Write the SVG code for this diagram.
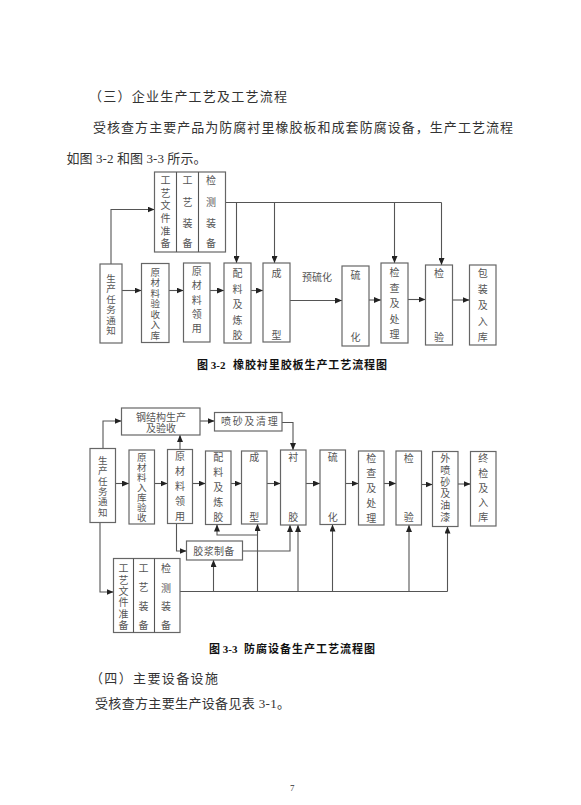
<svg xmlns="http://www.w3.org/2000/svg" width="581" height="805" viewBox="0 0 581 805">
<style>
.body{font-family:"Liberation Serif","Noto Sans CJK SC",serif;font-size:13px;fill:#333}
.cap{font-family:"Liberation Serif","Noto Sans CJK SC",serif;font-size:11px;font-weight:bold;fill:#111}
.bx{fill:#fff;stroke:#666;stroke-width:1.2}
.lbl{font-family:"Liberation Serif","Noto Sans CJK SC",serif;font-size:10px;fill:#555;text-anchor:middle}
.sm{font-size:9.5px}
.ln{fill:none;stroke:#555;stroke-width:1.1}
.ar{fill:none;stroke:#555;stroke-width:1.1;marker-end:url(#ah)}
</style>
<defs>
<marker id="ah" markerWidth="7" markerHeight="6" refX="7" refY="3" orient="auto" markerUnits="userSpaceOnUse"><path d="M0,0 L7,3 L0,6 z" fill="#222"/></marker>
</defs>
<rect width="581" height="805" fill="#fff"/>

<!-- body text -->
<text class="body" x="89" y="101" textLength="198" lengthAdjust="spacing">（三）企业生产工艺及工艺流程</text>
<text class="body" x="93" y="131.5" textLength="420" lengthAdjust="spacing">受核查方主要产品为防腐衬里橡胶板和成套防腐设备，生产工艺流程</text>
<text class="body" x="66.5" y="162.5" textLength="140" lengthAdjust="spacing">如图 3-2 和图 3-3 所示。</text>
<text class="cap" x="197" y="369">图 3-2<tspan x="233" textLength="154" lengthAdjust="spacing">橡胶衬里胶板生产工艺流程图</tspan></text>
<text class="cap" x="209" y="653">图 3-3<tspan x="244" textLength="131" lengthAdjust="spacing">防腐设备生产工艺流程图</tspan></text>
<text class="body" x="90" y="683" textLength="128" lengthAdjust="spacing">（四）主要设备设施</text>
<text class="body" x="95" y="708" textLength="195" lengthAdjust="spacing">受核查方主要生产设备见表 3-1。</text>
<text x="292.3" y="791" font-family="Liberation Serif" font-size="9" fill="#333" text-anchor="middle">7</text>

<!-- ===== Figure 3-2 ===== -->
<g id="f1-connectors">
<path class="ar" d="M111,264 V209.5 H154.5"/>
<path class="ln" d="M225,202.5 H441.5"/>
<path class="ar" d="M236.5,202.5 V263"/>
<path class="ar" d="M274.5,202.5 V263"/>
<path class="ar" d="M394.5,202.5 V263"/>
<path class="ar" d="M441.5,202.5 V265"/>
<path class="ar" d="M122,290.5 H141.5"/>
<path class="ar" d="M169,290.5 H183.5"/>
<path class="ar" d="M210,290.5 H224"/>
<path class="ar" d="M251,290.5 H263"/>
<path class="ar" d="M290,300.5 H342"/>
<path class="ar" d="M369,300 H381"/>
<path class="ar" d="M408,299.5 H425.5"/>
<path class="ar" d="M452.5,300 H469.5"/>
<text class="lbl" x="317" y="280.5">预硫化</text>
</g>

<g id="f1-doc">
<rect class="bx" x="154.5" y="172" width="71" height="80"/>
<path class="ln" d="M176.5,172 V252 M198.5,172 V252"/>
<text class="lbl"><tspan x="165.5" y="184">工</tspan><tspan x="165.5" y="196.7">艺</tspan><tspan x="165.5" y="209.4">文</tspan><tspan x="165.5" y="222">件</tspan><tspan x="165.5" y="234.7">准</tspan><tspan x="165.5" y="247.3">备</tspan></text>
<text class="lbl"><tspan x="187.5" y="184">工</tspan><tspan x="187.5" y="205.7">艺</tspan><tspan x="187.5" y="227.3">装</tspan><tspan x="187.5" y="247.3">备</tspan></text>
<text class="lbl"><tspan x="211" y="184">检</tspan><tspan x="211" y="205.7">测</tspan><tspan x="211" y="227.3">装</tspan><tspan x="211" y="247.3">备</tspan></text>
</g>
<g id="f1-n1">
<rect class="bx" x="100" y="264" width="22" height="79"/>
<text class="lbl sm"><tspan x="111" y="282">生</tspan><tspan x="111" y="292.4">产</tspan><tspan x="111" y="302.8">任</tspan><tspan x="111" y="313.2">务</tspan><tspan x="111" y="323.6">通</tspan><tspan x="111" y="334">知</tspan></text>
</g>
<g id="f1-n2">
<rect class="bx" x="141.5" y="263.5" width="27.5" height="79"/>
<text class="lbl sm"><tspan x="155.3" y="275.7">原</tspan><tspan x="155.3" y="286.2">材</tspan><tspan x="155.3" y="296.8">料</tspan><tspan x="155.3" y="307.3">验</tspan><tspan x="155.3" y="317.9">收</tspan><tspan x="155.3" y="328.4">入</tspan><tspan x="155.3" y="339">库</tspan></text>
</g>
<g id="f1-n3">
<rect class="bx" x="183.5" y="263" width="26.5" height="79"/>
<text class="lbl"><tspan x="196.8" y="275">原</tspan><tspan x="196.8" y="289.3">材</tspan><tspan x="196.8" y="303.5">料</tspan><tspan x="196.8" y="317.8">领</tspan><tspan x="196.8" y="332">用</tspan></text>
</g>
<g id="f1-n4">
<rect class="bx" x="224" y="263" width="27" height="80"/>
<text class="lbl"><tspan x="237.5" y="277.3">配</tspan><tspan x="237.5" y="292.7">料</tspan><tspan x="237.5" y="308.1">及</tspan><tspan x="237.5" y="323.6">炼</tspan><tspan x="237.5" y="339">胶</tspan></text>
</g>
<g id="f1-n5">
<rect class="bx" x="263" y="263" width="27" height="79"/>
<text class="lbl"><tspan x="276.5" y="277.3">成</tspan><tspan x="276.5" y="339">型</tspan></text>
</g>
<g id="f1-n6">
<rect class="bx" x="342" y="266" width="27" height="80"/>
<text class="lbl"><tspan x="355.5" y="279">硫</tspan><tspan x="355.5" y="340.7">化</tspan></text>
</g>
<g id="f1-n7">
<rect class="bx" x="381" y="263" width="27" height="80"/>
<text class="lbl"><tspan x="394.5" y="276.3">检</tspan><tspan x="394.5" y="291.8">查</tspan><tspan x="394.5" y="307.3">及</tspan><tspan x="394.5" y="322.8">处</tspan><tspan x="394.5" y="338.3">理</tspan></text>
</g>
<g id="f1-n8">
<rect class="bx" x="425.5" y="265" width="27" height="80"/>
<text class="lbl"><tspan x="439" y="277.3">检</tspan><tspan x="439" y="340.7">验</tspan></text>
</g>
<g id="f1-n9">
<rect class="bx" x="469.5" y="265" width="26.5" height="80"/>
<text class="lbl"><tspan x="482.7" y="277.3">包</tspan><tspan x="482.7" y="293.2">装</tspan><tspan x="482.7" y="309">及</tspan><tspan x="482.7" y="324.9">入</tspan><tspan x="482.7" y="340.7">库</tspan></text>
</g>

<!-- ===== Figure 3-3 ===== -->
<g id="f2-connectors">
<path class="ar" d="M103,448.5 V421 H121.5"/>
<path class="ar" d="M200,421 H214.5"/>
<path class="ar" d="M281.5,422.5 H293 V450"/>
<path class="ar" d="M180,449.5 V435"/>
<path class="ar" d="M115.5,483.5 H129"/>
<path class="ar" d="M154.5,483.5 H167.5"/>
<path class="ar" d="M192.5,483.5 H205.5"/>
<path class="ar" d="M231,483.5 H241.5"/>
<path class="ar" d="M267,483.5 H280.5"/>
<path class="ar" d="M306,483.5 H320"/>
<path class="ar" d="M345.5,483.5 H358.5"/>
<path class="ar" d="M384,483.5 H396"/>
<path class="ar" d="M421.5,484.5 H432.5"/>
<path class="ar" d="M458,484 H470.5"/>
<path class="ar" d="M176.5,523.5 V551 H186.5"/>
<path class="ar" d="M242.5,551 H290 V525"/>
<path class="ln" d="M180,591.5 H447.5"/>
<path class="ar" d="M213.5,591.5 V560"/>
<path class="ar" d="M257.5,591.5 V524"/>
<path class="ar" d="M298,591.5 V525"/>
<path class="ar" d="M332.5,591.5 V524.5"/>
<path class="ar" d="M409,591.5 V525"/>
<path class="ar" d="M447.5,591.5 V526.5"/>
<path class="ar" d="M257.5,535 H217 V524.5"/>
<path class="ar" d="M100,522.5 V592 H113.5"/>
</g>

<g id="f2-steel">
<rect class="bx" x="121.5" y="408" width="78.5" height="27"/>
<text class="lbl" x="161" y="420.5">钢结构生产</text>
<text class="lbl" x="161" y="431.5">及验收</text>
</g>
<g id="f2-sand">
<rect class="bx" x="214.5" y="412.5" width="67.5" height="18.5"/>
<text class="lbl" x="221" y="425" style="text-anchor:start" textLength="56.7" lengthAdjust="spacing">喷砂及清理</text>
</g>
<g id="f2-n1">
<rect class="bx" x="90" y="448.5" width="25.5" height="74"/>
<text class="lbl sm"><tspan x="102.8" y="464">生</tspan><tspan x="102.8" y="474.3">产</tspan><tspan x="102.8" y="484.7">任</tspan><tspan x="102.8" y="495">务</tspan><tspan x="102.8" y="505.3">通</tspan><tspan x="102.8" y="515.7">知</tspan></text>
</g>
<g id="f2-n2">
<rect class="bx" x="129" y="450" width="25.5" height="74"/>
<text class="lbl sm"><tspan x="141.7" y="460.7">原</tspan><tspan x="141.7" y="470.7">材</tspan><tspan x="141.7" y="480.7">料</tspan><tspan x="141.7" y="490.7">入</tspan><tspan x="141.7" y="500.7">库</tspan><tspan x="141.7" y="510.7">验</tspan><tspan x="141.7" y="520.7">收</tspan></text>
</g>
<g id="f2-n3">
<rect class="bx" x="167.5" y="449.5" width="25" height="74"/>
<text class="lbl"><tspan x="180" y="459.7">原</tspan><tspan x="180" y="474.7">材</tspan><tspan x="180" y="489.7">料</tspan><tspan x="180" y="504.7">领</tspan><tspan x="180" y="519.7">用</tspan></text>
</g>
<g id="f2-n4">
<rect class="bx" x="205.5" y="451" width="25.5" height="73.5"/>
<text class="lbl"><tspan x="218.3" y="460.7">配</tspan><tspan x="218.3" y="475.7">料</tspan><tspan x="218.3" y="490.7">及</tspan><tspan x="218.3" y="505.7">炼</tspan><tspan x="218.3" y="520.7">胶</tspan></text>
</g>
<g id="f2-n5">
<rect class="bx" x="241.5" y="451" width="25.5" height="73"/>
<text class="lbl"><tspan x="254.3" y="460.7">成</tspan><tspan x="254.3" y="520.7">型</tspan></text>
</g>
<g id="f2-n6">
<rect class="bx" x="280.5" y="450" width="25.5" height="75"/>
<text class="lbl"><tspan x="293.3" y="460.7">衬</tspan><tspan x="293.3" y="520.7">胶</tspan></text>
</g>
<g id="f2-n7">
<rect class="bx" x="320" y="450" width="25.5" height="74.5"/>
<text class="lbl"><tspan x="332.8" y="460.7">硫</tspan><tspan x="332.8" y="520.7">化</tspan></text>
</g>
<g id="f2-n8">
<rect class="bx" x="358.5" y="451" width="25.5" height="74"/>
<text class="lbl"><tspan x="371.2" y="462.3">检</tspan><tspan x="371.2" y="477.2">查</tspan><tspan x="371.2" y="492">及</tspan><tspan x="371.2" y="506.9">处</tspan><tspan x="371.2" y="521.7">理</tspan></text>
</g>
<g id="f2-n9">
<rect class="bx" x="396" y="451" width="25.5" height="74"/>
<text class="lbl"><tspan x="408.8" y="462.3">检</tspan><tspan x="408.8" y="521">验</tspan></text>
</g>
<g id="f2-n10">
<rect class="bx" x="432.5" y="451.5" width="25.5" height="75"/>
<text class="lbl"><tspan x="445.2" y="462.3">外</tspan><tspan x="445.2" y="474">喷</tspan><tspan x="445.2" y="485.7">砂</tspan><tspan x="445.2" y="497.4">及</tspan><tspan x="445.2" y="509">油</tspan><tspan x="445.2" y="520.7">漆</tspan></text>
</g>
<g id="f2-n11">
<rect class="bx" x="470.5" y="451.5" width="25.5" height="74.5"/>
<text class="lbl"><tspan x="483.3" y="462.3">终</tspan><tspan x="483.3" y="477">检</tspan><tspan x="483.3" y="491.7">及</tspan><tspan x="483.3" y="506.3">入</tspan><tspan x="483.3" y="521">库</tspan></text>
</g>
<g id="f2-glue">
<rect class="bx" x="186.5" y="541" width="56" height="19"/>
<text class="lbl" x="193.3" y="554.5" style="text-anchor:start" textLength="41" lengthAdjust="spacing">胶浆制备</text>
</g>
<g id="f2-doc">
<rect class="bx" x="113.5" y="558.5" width="66.5" height="74"/>
<path class="ln" d="M133.5,558.5 V632.5 M154.5,558.5 V632.5"/>
<text class="lbl"><tspan x="123.5" y="572.3">工</tspan><tspan x="123.5" y="583.6">艺</tspan><tspan x="123.5" y="595">文</tspan><tspan x="123.5" y="606.3">件</tspan><tspan x="123.5" y="617.7">准</tspan><tspan x="123.5" y="629">备</tspan></text>
<text class="lbl"><tspan x="143.5" y="572.3">工</tspan><tspan x="143.5" y="591.3">艺</tspan><tspan x="143.5" y="610">装</tspan><tspan x="143.5" y="629">备</tspan></text>
<text class="lbl"><tspan x="166" y="572.3">检</tspan><tspan x="166" y="591.7">测</tspan><tspan x="166" y="609.7">装</tspan><tspan x="166" y="629">备</tspan></text>
</g>
</svg>
